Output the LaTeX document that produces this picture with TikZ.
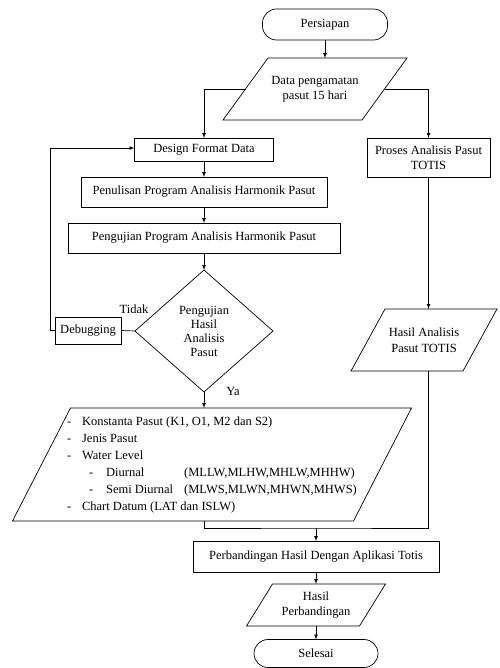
\documentclass[tikz,border=0pt]{standalone}
\usepackage{fontspec}
\setmainfont{Liberation Serif}
\usetikzlibrary{positioning, shapes.geometric}
\tikzset{every picture/.style={line width=0.7pt}}

\begin{document}
\begin{tikzpicture}
    [x=1pt, y=-1pt,
    font=\fontsize{12.5}{15.5}\selectfont,
    rect/.style = {rectangle, draw, align=center, inner sep=2pt, outer sep=0pt},
    term/.style = {rectangle, draw, align=center, rounded corners=14pt, outer sep=0pt},
    io/.style = {rectangle, align=center, inner sep=1pt, outer sep=0pt},
    dec/.style = {diamond, draw, align=center, inner sep=0pt, outer sep=0pt},
    -latex,
    ]
    \useasboundingbox (0,0) rectangle (499,668);

	\node[term, minimum height=31, minimum width=125] (start) at (325, 24.5) {Persiapan};
	\node[io, minimum height=62, minimum width=139] (data) at (315, 89) {Data pengamatan\\pasut 15 hari};

	\node[rect, minimum height=23, minimum width=139] (design) at (204, 149.5) {Design Format Data};
	\node[rect, minimum height=30, minimum width=246] (tulis) at (204, 192) {Penulisan Program Analisis Harmonik Pasut};
	\node[rect, minimum height=30, minimum width=272] (uji) at (204, 238) {Pengujian Program Analisis Harmonik Pasut};
	\node[dec, minimum height=122, minimum width=138, font=\fontsize{12.5}{14}\selectfont] (cek) at (204, 331) {Pengujian\\Hasil\\Analisis\\Pasut};
	\node[rect, minimum height=27, minimum width=66] (debug) at (88, 330.5) {Debugging};

	\node (tidak) at (134, 309) {Tidak};
	\node (ya) at (233, 391) {Ya};

	\node[rect, minimum height=39, minimum width=123] (proses) at (428.5, 157.5) {Proses Analisis Pasut\\TOTIS};
	\node[io, minimum height=62, minimum width=112] (totis) at (424, 340) {Hasil Analisis\\Pasut TOTIS};

	\node[io, minimum height=113, minimum width=341, align=left,
	    font=\fontsize{12.5}{17}\selectfont] (hasil) at (212, 464.5)
	    {\makebox[15pt][l]{-}Konstanta Pasut (K1, O1, M2 dan S2)\\
	     \makebox[15pt][l]{-}Jenis Pasut\\
	     \makebox[15pt][l]{-}Water Level\\
	     \hspace*{22pt}\makebox[17pt][l]{-}\makebox[78pt][l]{Diurnal}(MLLW,MLHW,MHLW,MHHW)\\
	     \hspace*{22pt}\makebox[17pt][l]{-}\makebox[78pt][l]{Semi Diurnal}(MLWS,MLWN,MHWN,MHWS)\\
	     \makebox[15pt][l]{-}Chart Datum (LAT dan ISLW)};

	\coordinate (gabung) at (316, 528);
	\node[rect, minimum height=31, minimum width=246] (banding) at (316, 556.5) {Perbandingan Hasil Dengan Aplikasi Totis};
	\node[io, minimum height=42, minimum width=113] (hasilband) at (316, 605) {Hasil\\Perbandingan};
	\node[term, minimum height=28, minimum width=124] (end) at (316, 653.5) {Selesai};

	% jajaran genjang untuk input/output
	\foreach \n/\s in {data/22.5, totis/17, hasil/29, hasilband/13}
	    \draw[-] ([xshift=\s]\n.north west) -- ([xshift=\s]\n.north east)
	        -- ([xshift=-\s]\n.south east) -- ([xshift=-\s]\n.south west) -- cycle;

    \draw (start.south) -- (start.south |- data.north);
    \draw (data.west) -| (design.north);
    \draw (data.east) -| (proses.north);
    \draw (design) -- (tulis);
    \draw (tulis) -- (uji);
    \draw (uji) -- (cek);
    \draw[-] (cek.west) -- (debug.east);
    \draw (debug.west) -- ++(-5,0) |- ([yshift=1.5pt]design.west);
    \draw (cek.south) -- (cek.south |- hasil.north);
    \draw (proses.south) -- (proses.south |- totis.north);
    \draw[-] ([xshift=-8pt]hasil.south) |- (gabung) -| (proses.south |- totis.south);
    \draw (gabung) -- (banding.north);
    \draw (banding) -- (hasilband);
    \draw (hasilband) -- (end);
\end{tikzpicture}
\end{document}
